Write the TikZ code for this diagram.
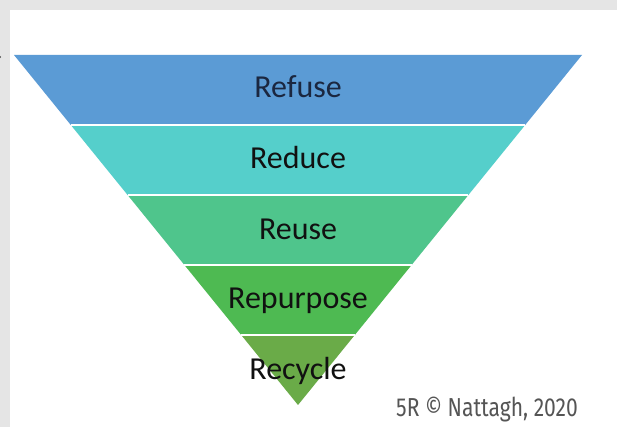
\documentclass[tikz,border=0pt]{standalone}
\usepackage{fontspec}
\setmainfont{Carlito}
\newfontfamily\footfont{Fira Sans}
\definecolor{bgray}{HTML}{E5E5E5}
\definecolor{cRefuse}{HTML}{5B9BD5}
\definecolor{cReduce}{HTML}{55CFCB}
\definecolor{cReuse}{HTML}{4FC58C}
\definecolor{cRepurpose}{HTML}{4EBA52}
\definecolor{cRecycle}{HTML}{6AAB48}
\definecolor{txtnavy}{HTML}{1B2740}
\definecolor{txtdark}{HTML}{111111}
\definecolor{footgray}{HTML}{555555}
\begin{document}
\begin{tikzpicture}[x=1pt,y=1pt,
  lvl/.style={anchor=base,font=\fontsize{32}{36}\selectfont,text=txtdark,inner sep=0pt},
  sep/.style={white,line width=1.5pt},
  foot/.style={anchor=base west,inner sep=0pt,text=footgray,font=\footfont\fontsize{26}{30}\selectfont}]
\useasboundingbox (0,0) rectangle (617,427);
\fill[white] (0,0) rectangle (617,427);
\fill[bgray] (0,417) rectangle (617,427);
\fill[bgray] (0,0) rectangle (10,427);
\fill[black!70] (0,370) circle (1.2);
% bands
\fill[cRefuse] (14,372) -- (582,372) -- (525.2,302) -- (70.8,302) -- cycle;
\fill[cReduce] (70.8,302) -- (525.2,302) -- (468.4,232) -- (127.6,232) -- cycle;
\fill[cReuse] (127.6,232) -- (468.4,232) -- (411.6,162) -- (184.4,162) -- cycle;
\fill[cRepurpose] (184.4,162) -- (411.6,162) -- (354.8,92) -- (241.2,92) -- cycle;
\fill[cRecycle] (241.2,92) -- (354.8,92) -- (298,22) -- cycle;
\draw[sep] (70.8,302) -- (525.2,302);
\draw[sep] (127.6,232) -- (468.4,232);
\draw[sep] (184.4,162) -- (411.6,162);
\draw[sep] (241.2,92) -- (354.8,92);
% labels
\node[lvl,text=txtnavy] (refuse) at (298,329) {Refuse};
\node[lvl] (reduce) at (298,258) {Reduce};
\node[lvl] (reuse) at (298,187) {Reuse};
\node[lvl] (repurpose) at (298,118) {Repurpose};
\node[lvl] (recycle) at (298,47) {Recycle};
\node[foot] (credit) at (396,10) {\scalebox{0.81}[1]{5R © Nattagh, 2020}};
\end{tikzpicture}
\end{document}
